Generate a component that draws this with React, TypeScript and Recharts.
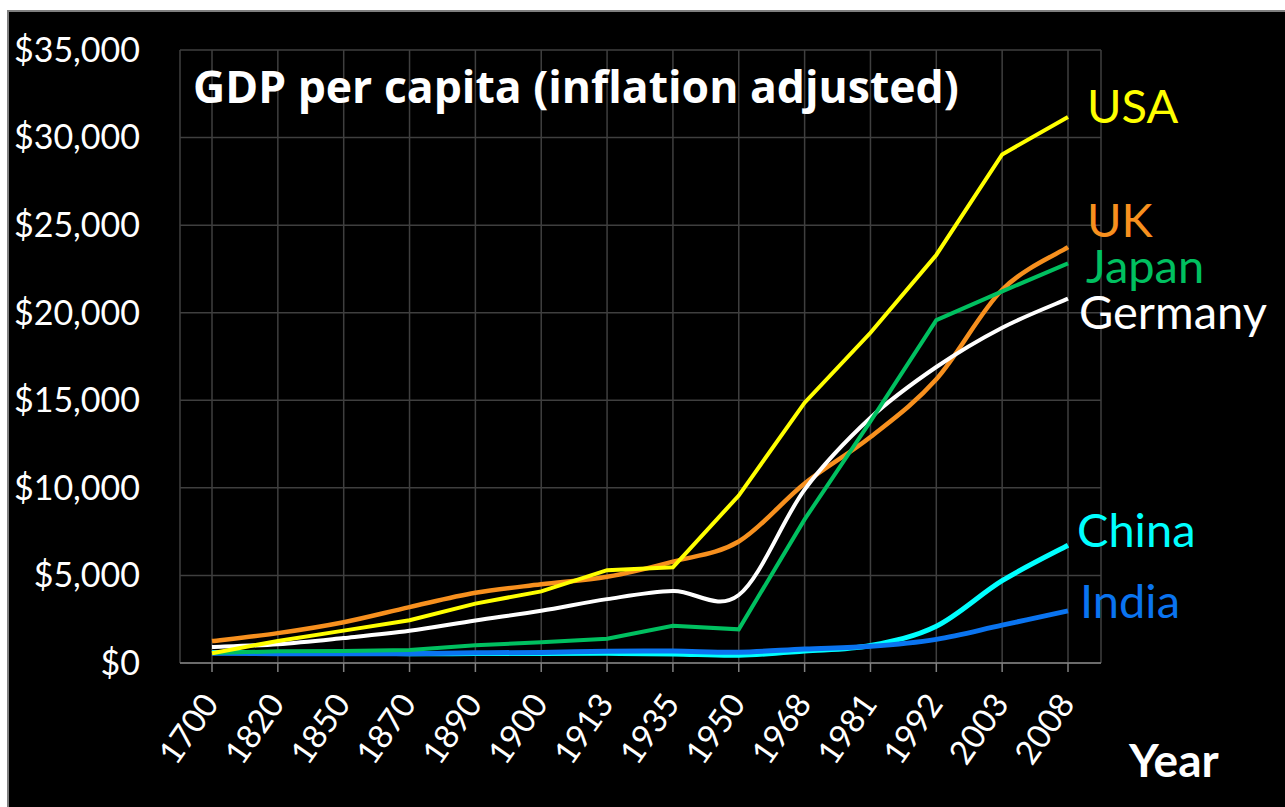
import React from 'react';
import { LineChart, Line, XAxis, YAxis, CartesianGrid } from 'recharts';

const years = ['1700', '1820', '1850', '1870', '1890', '1900', '1913', '1935', '1950', '1968', '1981', '1992', '2003', '2008'];
const usa = [560, 1257, 1849, 2445, 3392, 4091, 5301, 5467, 9561, 14863, 18856, 23298, 29037, 31178];
const uk = [1250, 1706, 2330, 3190, 4009, 4492, 4921, 5790, 6939, 10250, 12900, 16200, 21310, 23742];
const japan = [570, 669, 681, 737, 1012, 1180, 1387, 2120, 1921, 8200, 13800, 19580, 21218, 22816];
const germany = [910, 1077, 1428, 1839, 2428, 2985, 3648, 4110, 3881, 9900, 14000, 16900, 19144, 20801];
const china = [600, 600, 600, 530, 540, 545, 552, 520, 448, 680, 1000, 2100, 4700, 6725];
const india = [550, 533, 533, 533, 584, 599, 673, 680, 619, 800, 950, 1350, 2160, 2975];
const yTicks = [0, 5000, 10000, 15000, 20000, 25000, 30000, 35000];

const data = years.map((year, i) => ({
  year,
  usa: usa[i],
  uk: uk[i],
  japan: japan[i],
  germany: germany[i],
  china: china[i],
  india: india[i],
}));

const FONT = 'Lato, "Open Sans", sans-serif';
const TITLE_FONT = '"Open Sans", Lato, sans-serif';

// Catmull-Rom style smoothing (similar to spreadsheet "smoothed line")
const smooth = (context: any) => {
  let pts: number[][] = [];
  return {
    areaStart() {},
    areaEnd() {},
    lineStart() {
      pts = [];
    },
    point(x: number, y: number) {
      pts.push([+x, +y]);
    },
    lineEnd() {
      const n = pts.length;
      if (!n) return;
      context.moveTo(pts[0][0], pts[0][1]);
      for (let i = 0; i < n - 1; i++) {
        const p0 = pts[Math.max(0, i - 1)];
        const p1 = pts[i];
        const p2 = pts[i + 1];
        const p3 = pts[Math.min(n - 1, i + 2)];
        context.bezierCurveTo(
          p1[0] + (p2[0] - p0[0]) / 6,
          p1[1] + (p2[1] - p0[1]) / 6,
          p2[0] - (p3[0] - p1[0]) / 6,
          p2[1] - (p3[1] - p1[1]) / 6,
          p2[0],
          p2[1]
        );
      }
    },
  };
};

const endLabel = (name: string, color: string, dx: number, dy: number) => (props: any) => {
  if (props.index !== years.length - 1) return <g />;
  return (
    <text x={props.x + dx} y={props.y + dy} fill={color} fontSize={47} fontFamily={FONT}>
      {name}
    </text>
  );
};

const XTick = (props: any) => {
  const { x, y, payload } = props;
  const ax = x + 8;
  const ay = y + 30;
  return (
    <text
      x={ax}
      y={ay}
      transform={`rotate(-55, ${ax}, ${ay})`}
      textAnchor="end"
      fill="#ffffff"
      fontSize={33}
      fontFamily={FONT}
    >
      {payload.value}
    </text>
  );
};

const YTick = (props: any) => {
  const { x, y, payload } = props;
  return (
    <text x={x} y={y} dy="0.35em" textAnchor="end" fill="#ffffff" fontSize={34} fontFamily={FONT}>
      {'$' + Number(payload.value).toLocaleString('en-US')}
    </text>
  );
};

export default function App() {
  return (
    <div style={{ position: 'fixed', left: 0, top: 0, width: 1285, height: 807, background: '#ffffff', overflow: 'hidden' }}>
      <div
        style={{
          position: 'absolute',
          left: 7,
          top: 10,
          width: 1285,
          height: 807,
          background: '#000000',
          borderLeft: '2px solid #7f7f7f',
          borderTop: '2px solid #7f7f7f',
        }}
      />
      <div style={{ position: 'absolute', left: 0, top: 0 }}>
        <LineChart width={1285} height={807} data={data} margin={{ top: 50, right: 184, left: 10, bottom: 44 }}>
          <CartesianGrid stroke="#3f3f3f" strokeWidth={1.5} />
          <XAxis
            dataKey="year"
            padding={{ left: 32, right: 33 }}
            height={100}
            interval={0}
            tick={<XTick />}
            tickSize={9}
            axisLine={{ stroke: '#808080', strokeWidth: 1.5 }}
            tickLine={{ stroke: '#808080', strokeWidth: 1.5 }}
          />
          <YAxis
            width={170}
            domain={[0, 35000]}
            ticks={yTicks}
            interval={0}
            axisLine={false}
            tickLine={false}
            tickSize={0}
            tickMargin={40}
            tick={<YTick />}
          />
          <Line dataKey="china" type={smooth as any} stroke="#00ffff" strokeWidth={5} dot={false} isAnimationActive={false} label={endLabel('China', '#00ffff', 9, 2)} />
          <Line dataKey="india" type={smooth as any} stroke="#0a74f0" strokeWidth={5} dot={false} isAnimationActive={false} label={endLabel('India', '#0a74f0', 12, 7)} />
          <Line dataKey="uk" type={smooth as any} stroke="#f7901e" strokeWidth={4.5} dot={false} isAnimationActive={false} label={endLabel('UK', '#f7901e', 19, -10)} />
          <Line dataKey="germany" type={smooth as any} stroke="#ffffff" strokeWidth={4} dot={false} isAnimationActive={false} label={endLabel('Germany', '#ffffff', 11, 30)} />
          <Line dataKey="japan" type="linear" stroke="#00c060" strokeWidth={4} dot={false} isAnimationActive={false} label={endLabel('Japan', '#00c060', 18, 20)} />
          <Line dataKey="usa" type="linear" stroke="#ffff00" strokeWidth={4} dot={false} isAnimationActive={false} label={endLabel('USA', '#ffff00', 19, 6)} />
          <text x={193} y={103} fill="#ffffff" fontSize={44.5} fontWeight="bold" fontFamily={TITLE_FONT}>
            GDP per capita (inflation adjusted)
          </text>
          <text x={1129} y={777} fill="#ffffff" fontSize={46} fontWeight="bold" fontFamily={FONT}>
            Year
          </text>
        </LineChart>
      </div>
    </div>
  );
}
